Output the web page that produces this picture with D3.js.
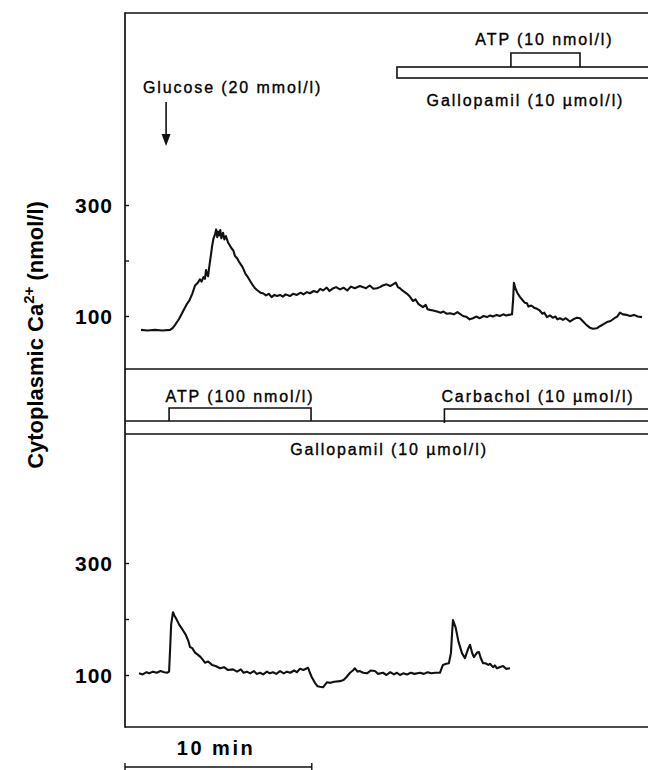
<!DOCTYPE html>
<html>
<head>
<meta charset="utf-8">
<script src="https://cdn.jsdelivr.net/npm/d3@7"></script>
<style>
  html, body { margin: 0; padding: 0; background: #fff; }
  svg { display: block; }
  text { font-family: "Liberation Sans", Arial, Helvetica, sans-serif; fill: #000; }
</style>
</head>
<body>
<svg id="chart" width="648" height="770"></svg>
<script>
// Time (min) and cytoplasmic Ca2+ (nmol/l), upper recording: glucose, then gallopamil, then ATP 10 nmol/l
const topTime = [0.86,1.2,1.6,2.0,2.41,2.55,2.68,2.9,3.1,3.32,3.45,3.6,3.75,3.9,4.01,4.1,4.2,4.28,4.34,4.39,4.45,4.5,4.58,4.66,4.74,4.82,4.88,4.94,4.98,5.04,5.1,5.16,5.25,5.32,5.4,5.51,5.6,5.7,5.8,5.89,6.0,6.1,6.26,6.35,6.45,6.58,6.7,6.85,6.96,7.1,7.25,7.39,7.55,7.7,7.85,8.0,8.14,8.3,8.45,8.6,8.83,9.0,9.2,9.4,9.55,9.74,9.9,10.1,10.3,10.45,10.6,10.8,10.95,11.1,11.3,11.51,11.7,11.9,12.1,12.3,12.58,12.75,12.9,13.1,13.3,13.49,13.65,13.8,14.0,14.2,14.35,14.5,14.61,14.72,14.85,15.1,15.25,15.42,15.55,15.7,15.95,16.1,16.2,16.33,16.5,16.7,16.9,17.05,17.24,17.4,17.6,17.8,17.93,18.1,18.3,18.45,18.63,18.8,19.0,19.2,19.38,19.55,19.7,19.9,20.07,20.25,20.4,20.55,20.72,20.78,20.82,20.9,21.0,21.15,21.3,21.4,21.52,21.6,21.75,21.9,22.06,22.2,22.35,22.45,22.59,22.75,22.9,23.05,23.15,23.29,23.45,23.6,23.82,24.0,24.2,24.36,24.5,24.7,24.89,25.05,25.27,25.45,25.6,25.8,26.0,26.2,26.35,26.5,26.65,26.87,27.05,27.25,27.45,27.68];
const topCa = [75,74,75,74,75,78,84,95,108,122,128,140,155,160,166,162,170,167,183,175,172,186,205,225,240,247,256,242,252,245,255,240,250,238,244,233,228,222,218,208,204,198,190,184,176,170,163,155,150,146,142,141,137,140,134,138,136,138,135,139,136,140,138,142,139,143,141,145,143,149,146,151,145,149,152,148,151,146,153,150,154,152,150,155,149,150,152,155,157,154,157,160,152,150,146,140,135,127,130,122,116,120,112,111,110,108,106,108,104,105,103,107,104,100,98,94,96,99,96,100,98,101,99,102,100,103,101,102,103,130,160,150,142,134,128,124,123,117,119,115,113,110,104,106,98,101,97,99,94,96,93,96,90,94,97,96,91,84,79,77,78,82,85,89,91,96,99,106,103,102,100,102,99,98];

// Lower recording under gallopamil: ATP 100 nmol/l, then carbachol 10 umol/l
const botTime = [0.75,0.95,1.15,1.3,1.5,1.7,1.9,2.1,2.25,2.36,2.42,2.47,2.57,2.65,2.75,2.9,3.1,3.25,3.4,3.48,3.6,3.75,3.91,4.05,4.15,4.28,4.45,4.66,4.85,5.09,5.3,5.5,5.78,6.0,6.2,6.35,6.53,6.7,6.9,7.05,7.23,7.4,7.6,7.75,7.92,8.1,8.3,8.5,8.67,8.85,9.05,9.2,9.37,9.55,9.8,9.9,10.0,10.17,10.3,10.44,10.6,10.81,11.0,11.2,11.51,11.7,11.85,12.05,12.2,12.31,12.45,12.58,12.75,12.96,13.15,13.38,13.55,13.81,14.0,14.2,14.4,14.56,14.72,14.9,15.1,15.3,15.5,15.79,16.0,16.2,16.4,16.6,16.86,16.95,17.02,17.2,17.34,17.45,17.52,17.56,17.7,17.85,18.04,18.2,18.35,18.47,18.6,18.68,18.85,18.95,19.05,19.17,19.3,19.45,19.54,19.7,19.8,19.91,20.05,20.24,20.4,20.61];
const botCa = [103,101,105,103,106,104,107,105,104,106,150,190,212,206,200,190,180,172,160,150,148,140,136,132,128,122,124,118,116,112,114,109,110,106,110,104,106,103,107,102,104,101,106,103,105,102,107,103,106,104,108,105,111,109,113,104,96,86,80,79,78,87,86,88,89,91,96,104,108,112,106,107,104,103,108,107,102,104,100,105,101,104,100,103,101,104,102,104,102,105,103,104,104,112,118,120,121,139,180,198,185,160,139,130,145,154,138,132,140,141,130,121,121,118,120,114,117,112,114,116,111,112];

// Y-axis ticks and their labels
const caTicks = [100, 200, 300];
const caTickLabels = ["100", "", "300"];

// Drug applications (min)
const glucoseAt = 2.2;
const topGallopamil = [14.56, 30];
const topAtp = [20.66, 24.36];
const botAtp = [2.36, 9.96];
const botCarbachol = [17.1, 30];
const scaleBarMin = [0, 10];

const svg = d3.select("#chart");

// Layout
const xLeft = 125, xRight = 648;
const frameTop = 13, topBottom = 369, drugBase = 421, botTop = 434, botBottom = 727;

const x = d3.scaleLinear().domain([0, 28]).range([xLeft, xRight]);
const yTop = d3.scaleLinear().domain([100, 300]).range([316, 205]);
const yBot = d3.scaleLinear().domain([100, 300]).range([675, 563]);

const ink = "#111";

// Frame lines
const hLines = [frameTop, topBottom, drugBase, botTop, botBottom];
svg.append("g").selectAll("line").data(hLines).join("line")
  .attr("x1", xLeft).attr("x2", 660)
  .attr("y1", d => d).attr("y2", d => d)
  .attr("stroke", ink).attr("stroke-width", 1.7);
svg.append("line")
  .attr("x1", xLeft).attr("x2", xLeft)
  .attr("y1", frameTop - 0.8).attr("y2", botBottom + 0.8)
  .attr("stroke", ink).attr("stroke-width", 1.7);

// Axes (ticks point inward, labels to the left)
function drawAxis(scale) {
  const g = svg.append("g").attr("transform", `translate(${xLeft},0)`)
    .call(d3.axisLeft(scale).tickValues(caTicks).tickSize(-4).tickPadding(12)
      .tickFormat((d, i) => caTickLabels[i]));
  g.select(".domain").remove();
  g.selectAll(".tick line").attr("stroke", ink).attr("stroke-width", 1.4);
  g.selectAll(".tick text")
    .attr("font-family", "'Liberation Sans', Arial, sans-serif")
    .attr("font-size", 21).attr("font-weight", "bold")
    .attr("letter-spacing", 1).attr("fill", ink)
    .attr("dy", "0.36em");
}
drawAxis(yTop);
drawAxis(yBot);

// Y-axis title
const yTitle = svg.append("text")
  .attr("transform", "translate(43,335) rotate(-90)")
  .attr("text-anchor", "middle")
  .attr("font-size", 22).attr("font-weight", "bold");
yTitle.append("tspan").text("Cytoplasmic Ca");
yTitle.append("tspan").attr("dy", -9).attr("font-size", 15).text("2+");
yTitle.append("tspan").attr("dy", 9).text(" (nmol/l)");

// Traces
const lineTop = d3.line().x(d => x(d[0])).y(d => yTop(d[1]));
const lineBot = d3.line().x(d => x(d[0])).y(d => yBot(d[1]));
svg.append("path").datum(d3.zip(topTime, topCa))
  .attr("d", lineTop).attr("fill", "none").attr("stroke", ink)
  .attr("stroke-width", 2.1).attr("stroke-linejoin", "round");
svg.append("path").datum(d3.zip(botTime, botCa))
  .attr("d", lineBot).attr("fill", "none").attr("stroke", ink)
  .attr("stroke-width", 2.1).attr("stroke-linejoin", "round");

const labelStyle = s => s.attr("font-size", 16).attr("letter-spacing", 1.9)
  .attr("stroke", "#000").attr("stroke-width", 0.35);

// Upper annotations: gallopamil bar with ATP bracket on it
svg.append("rect")
  .attr("x", x(topGallopamil[0])).attr("y", 67)
  .attr("width", x(topGallopamil[1]) - x(topGallopamil[0])).attr("height", 11)
  .attr("fill", "none").attr("stroke", ink).attr("stroke-width", 1.6);
svg.append("path")
  .attr("d", `M${x(topAtp[0])},67V53H${x(topAtp[1])}V67`)
  .attr("fill", "none").attr("stroke", ink).attr("stroke-width", 1.6);
svg.append("text").call(labelStyle)
  .attr("x", (x(topAtp[0]) + x(topAtp[1])) / 2 - 1).attr("y", 45)
  .attr("text-anchor", "middle").text("ATP (10 nmol/l)");
svg.append("text").call(labelStyle)
  .attr("x", (x(topGallopamil[0]) + xRight) / 2 + 3).attr("y", 106)
  .attr("text-anchor", "middle").text("Gallopamil (10 \u00b5mol/l)");

// Glucose arrow
svg.append("text").call(labelStyle)
  .attr("x", 143).attr("y", 93).text("Glucose (20 mmol/l)");
svg.append("line")
  .attr("x1", x(glucoseAt)).attr("x2", x(glucoseAt))
  .attr("y1", 102).attr("y2", 138)
  .attr("stroke", ink).attr("stroke-width", 1.6);
svg.append("path")
  .attr("d", `M${x(glucoseAt) - 4.5},134L${x(glucoseAt) + 4.5},134L${x(glucoseAt)},146Z`)
  .attr("fill", ink);

// Lower annotations: ATP and carbachol brackets above the gallopamil bar
svg.append("path")
  .attr("d", `M${x(botAtp[0])},${drugBase}V408H${x(botAtp[1])}V${drugBase}`)
  .attr("fill", "none").attr("stroke", ink).attr("stroke-width", 1.6);
svg.append("path")
  .attr("d", `M${x(botCarbachol[0])},${drugBase + 2}V409H${x(botCarbachol[1])}`)
  .attr("fill", "none").attr("stroke", ink).attr("stroke-width", 1.6);
svg.append("text").call(labelStyle)
  .attr("x", (x(botAtp[0]) + x(botAtp[1])) / 2).attr("y", 402)
  .attr("text-anchor", "middle").text("ATP (100 nmol/l)");
svg.append("text").call(labelStyle)
  .attr("x", 538).attr("y", 402)
  .attr("text-anchor", "middle").text("Carbachol (10 \u00b5mol/l)");
svg.append("text").call(labelStyle)
  .attr("x", 389).attr("y", 455)
  .attr("text-anchor", "middle").text("Gallopamil (10 \u00b5mol/l)");

// Time scale bar
const sb0 = x(scaleBarMin[0]), sb1 = x(scaleBarMin[1]);
svg.append("text")
  .attr("x", 216).attr("y", 755)
  .attr("text-anchor", "middle")
  .attr("font-size", 20).attr("font-weight", "bold").attr("letter-spacing", 2.5)
  .text("10 min");
svg.append("path")
  .attr("d", `M${sb0},763V771M${sb0},767H${sb1}M${sb1},763V771`)
  .attr("fill", "none").attr("stroke", ink).attr("stroke-width", 1.4);
</script>
</body>
</html>
